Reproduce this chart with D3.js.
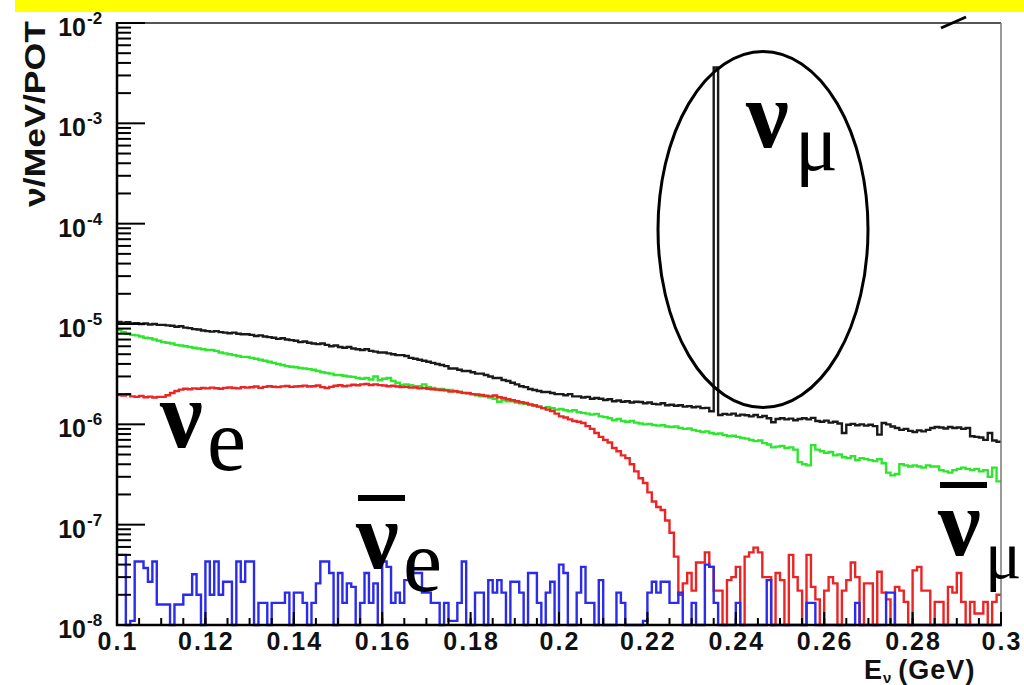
<!DOCTYPE html>
<html>
<head>
<meta charset="utf-8">
<script src="https://cdn.jsdelivr.net/npm/d3@7"></script>
<style>
  html, body { margin: 0; padding: 0; background: #fff; }
  svg { display: block; }
  .num { font-family: "Liberation Sans", Arial, sans-serif; font-weight: bold; fill: #111; }
  .greek { font-family: "Liberation Serif", "Times New Roman", serif; fill: #000; }
</style>
</head>
<body>
<script>
// neutrino flux per 1 MeV bin, 0.1 -> 0.3 GeV (200 bins)
const E_MIN = 0.1, E_MAX = 0.3, BIN_W = 0.001;
const binLow = d3.range(200).map(i => E_MIN + i * BIN_W);

// nu_mu (black), units of 1e-7 nu/MeV/POT ; bin 135 is the 236 MeV KDAR line
const numu = [
  105, 103, 104, 101, 102, 100, 101, 99, 100, 98,
  98, 97, 96, 94, 95, 92, 91, 89, 88, 86,
  85, 84, 85, 83, 82, 81, 82, 80, 79, 79,
  78, 76, 77, 75, 74, 73, 71, 72, 70, 69,
  68, 66, 67, 65, 64, 63, 64, 62, 60, 61,
  59, 58, 59, 57, 56, 55, 56, 54, 53, 52,
  52, 51, 50, 49, 49, 48, 46, 45, 44, 43,
  42, 41, 40, 39, 38, 36, 36, 35, 34, 34,
  33, 32, 32, 31, 30, 29, 29, 27.7, 27, 26,
  25, 24, 23.5, 22.5, 22, 21.5, 21, 21, 20.5, 20,
  20, 19.5, 20, 19, 19, 18.5, 18.8, 18, 18.3, 18,
  17.5, 17.8, 17, 17.3, 16.8, 17, 16.5, 16.8, 16.7, 16.2,
  16.5, 16, 15.8, 16.2, 15.5, 15.7, 15.3, 15.5, 15, 15.2,
  14.8, 15, 14.5, 14.6, 13.5, 36000, 12.4, 12.7, 12.5, 12.8,
  12.2, 12.5, 12.3, 12.0, 12.4, 11.8, 12.1, 11.5, 10.5, 11.3,
  11.5, 11.2, 11.4, 11.0, 11.3, 11.5, 11.2, 11.6, 10.8, 10.6,
  10.9, 10.4, 10.6, 10.2, 8.2, 9.9, 10.1, 9.8, 10.0, 9.7,
  9.9, 9.6, 7.9, 10.3, 10.0, 9.5, 9.2, 8.8, 9.0, 8.6,
  8.4, 8.7, 8.5, 8.8, 9.2, 9.4, 9.3, 9.1, 9.4, 9.2,
  9.3, 9.0, 9.2, 7.6, 7.5, 7.4, 7.0, 8.2, 6.9, 6.7
];

// anti nu_mu (green), units of 1e-7
const numubar = [
  87, 83, 80, 78, 77, 75, 73, 72, 70, 68,
  66, 65, 64, 62, 61, 60, 59, 58, 57, 56,
  55, 55, 54, 52, 51, 50, 49, 48, 47, 47,
  46, 45, 44, 43, 42, 41, 40, 39, 38, 37.5,
  37, 36.4, 36, 35.5, 35, 34, 33, 32.5, 32, 31,
  31, 30.5, 30, 29.7, 29, 28.5, 29, 28, 30, 27.5,
  28.5, 29, 27, 26, 24.7, 25, 24.5, 24, 24, 25,
  23.5, 23, 22.5, 22.5, 22, 22, 21.5, 21, 20.5, 20.5,
  20, 19.5, 19, 19, 18.5, 18, 16.8, 17.5, 17, 17,
  16.5, 16.2, 16, 15.7, 15.5, 15, 14.5, 14.8, 14.5, 14,
  14.2, 13.8, 13.5, 13.8, 13.2, 13, 12.8, 12.5, 12.7, 12,
  11.8, 11.5, 11, 11.3, 10.8, 10.6, 10.8, 10.4, 10.2, 10,
  10.1, 9.85, 9.7, 9.8, 9.5, 9.4, 9.5, 9.2, 9.0, 9.1,
  8.8, 8.6, 8.4, 8.5, 8.2, 8.0, 8.1, 7.8, 7.6, 7.7,
  7.5, 7.3, 7.2, 7.0, 6.8, 6.9, 6.5, 6.3, 5.9, 6.0,
  6.1, 5.8, 5.9, 5.6, 4.2, 4.0, 3.9, 6.2, 5.6, 5.4,
  5.2, 5.3, 4.9, 5.0, 4.7, 4.6, 4.8, 4.4, 4.6, 4.5,
  4.4, 4.3, 4.5, 4.1, 3.3, 3.1, 3.2, 4.0, 3.9, 3.8,
  3.9, 3.8, 3.7, 3.9, 3.8, 3.8, 3.5, 3.4, 3.3, 3.5,
  3.6, 3.7, 3.6, 3.5, 3.6, 3.4, 3.5, 3.0, 3.7, 2.7
];

// nu_e (red), units of 1e-8
const nue = [
  196, 194, 198, 190, 188, 192, 186, 189, 185, 188,
  188, 195, 205, 215, 222, 226, 224, 228, 226, 230,
  228, 232, 229, 226, 231, 233, 230, 228, 235, 232,
  234, 238, 231, 236, 240, 237, 235, 239, 241, 236,
  238, 240, 243, 238, 240, 244, 235, 230, 236, 242,
  245, 240, 243, 248, 245, 250, 252, 247, 250, 246,
  244, 240, 242, 238, 235, 236, 232, 233, 228, 230,
  226, 224, 222, 220, 218, 212, 214, 210, 206, 204,
  200, 198, 196, 193, 190, 194, 186, 183, 178, 174,
  170, 166, 163, 158, 154, 150, 145, 140, 136, 128,
  120, 117, 112, 108, 106, 103, 96, 90, 82, 75,
  70, 66, 58, 54, 49, 46, 40, 34, 29, 26,
  21, 17, 15, 14, 11, 8.3, 4.8, 2.0, 2.6, 3.3,
  2.2, 4.2, 4.2, 5.3, 3.8, 2.2, 2.2, 0, 2.8, 3.0,
  3.8, 0, 4.8, 5.3, 5.9, 5.3, 3.0, 3.0, 0, 3.3,
  2.8, 0, 5.0, 3.0, 2.2, 0, 5.0, 2.4, 1.8, 0,
  2.2, 3.0, 2.6, 0, 2.2, 2.8, 4.2, 3.0, 0, 2.6,
  2.6, 0, 3.4, 2.1, 1.8, 0, 2.4, 2.2, 1.7, 0,
  3.5, 3.8, 2.2, 2.2, 0, 1.7, 1.7, 0, 2.4, 2.1,
  3.3, 1.7, 0, 1.7, 1.3, 1.3, 1.7, 0, 1.7, 2.0
];

// anti nu_e (blue), units of 1e-8 ; 0 = empty bin
const nuebar = [
  5.0, 5.0, 0, 1.1, 4.3, 4.3, 3.7, 2.7, 4.3, 1.6,
  1.6, 1.6, 0, 1.6, 1.6, 2.0, 2.0, 3.2, 2.0, 0,
  4.3, 2.0, 4.3, 2.0, 2.7, 2.7, 0, 4.3, 2.7, 4.3,
  4.3, 0, 1.66, 1.66, 0, 1.66, 1.66, 1.66, 2.1, 0,
  2.1, 2.1, 1.66, 0, 1.66, 2.6, 4.3, 4.3, 3.3, 0,
  3.3, 1.66, 2.6, 2.4, 0, 1.66, 3.3, 1.66, 2.6, 0,
  4.3, 3.8, 1.66, 2.1, 1.66, 2.8, 4.3, 3.3, 3.3, 2.1,
  2.1, 1.66, 1.66, 0, 1.66, 1.1, 1.1, 1.66, 4.3, 0,
  0, 2.1, 2.1, 0, 2.8, 2.1, 2.8, 2.1, 0, 2.7,
  2.7, 2.1, 0, 3.3, 3.3, 1.66, 0, 2.1, 2.7, 0,
  4.0, 3.3, 0, 0, 2.1, 3.8, 1.66, 1.66, 0, 2.8,
  0, 0, 0, 2.1, 1.66, 0, 0, 0, 0, 1.1,
  2.1, 2.7, 2.1, 2.7, 2.7, 1.66, 1.66, 2.1, 0, 0,
  1.66, 0, 0, 4.0, 3.8, 1.66, 0, 0, 0, 0,
  1.66, 0, 0, 0, 0, 0, 0, 2.8, 0, 0,
  0, 0, 0, 0, 0, 0, 1.66, 1.66, 0, 0,
  0, 0, 0, 0, 0, 0, 0, 1.66, 0, 0,
  0, 0, 0, 0, 2.1, 2.1, 0, 0, 0, 0,
  0, 0, 0, 0, 0, 0, 0, 0, 0, 0,
  0, 0, 0, 0, 0, 0, 0, 0, 0, 0
];

const series = [
  { vals: numu, unit: 1e-7, color: "#1a1a1a" },
  { vals: numubar, unit: 1e-7, color: "#2ee62e" },
  { vals: nue, unit: 1e-8, color: "#ec2424" },
  { vals: nuebar, unit: 1e-8, color: "#2b2bec" }
];

const xMajor = d3.range(0.1, 0.3001, 0.02);

const W = 1024, H = 685;
const svg = d3.select("body").append("svg").attr("width", W).attr("height", H);

svg.append("rect").attr("width", W).attr("height", H).attr("fill", "#fff");
// yellow title strip
svg.append("rect").attr("x", 15).attr("y", 0).attr("width", W - 15).attr("height", 12).attr("fill", "#ffff00");

const x = d3.scaleLinear().domain([E_MIN, E_MAX]).range([117, 1001]);
const y = d3.scaleLog().domain([1e-8, 1e-2]).range([625, 23]).clamp(true);
const yMin = y.domain()[0];

// histograms
const line = d3.line().x(d => x(d[0])).y(d => y(Math.max(d[1], yMin)));
series.forEach(s => {
  const pts = [];
  s.vals.forEach((v, i) => {
    pts.push([binLow[i], v * s.unit], [binLow[i] + BIN_W, v * s.unit]);
  });
  svg.append("path")
    .attr("d", line(pts))
    .attr("fill", "none")
    .attr("stroke", s.color)
    .attr("stroke-width", 2.4)
    .attr("stroke-linejoin", "miter");
});

// frame
svg.append("line").attr("x1", 117).attr("x2", 1001).attr("y1", 23).attr("y2", 23)
  .attr("stroke", "#555").attr("stroke-width", 2);
svg.append("line").attr("x1", 1001).attr("x2", 1001).attr("y1", 23).attr("y2", 625)
  .attr("stroke", "#777").attr("stroke-width", 1.5);

// y axis, ticks inward
const yAxis = svg.append("g");
yAxis.append("line").attr("x1", 117).attr("x2", 117).attr("y1", 22).attr("y2", 626)
  .attr("stroke", "#000").attr("stroke-width", 2.5);
const isMajor = t => Math.abs(Math.log10(t) - Math.round(Math.log10(t))) < 1e-6;
yAxis.selectAll(".yt").data(y.ticks()).join("line")
  .attr("x1", 117).attr("x2", t => 117 + (isMajor(t) ? 28 : 14))
  .attr("y1", t => y(t)).attr("y2", t => y(t))
  .attr("stroke", "#000").attr("stroke-width", 2);
const majors = y.ticks().filter(isMajor);
yAxis.selectAll(".ylab").data(majors).join("text")
  .attr("class", "num").attr("x", 86).attr("y", t => y(t) + 13)
  .attr("text-anchor", "end").attr("font-size", 25)
  .text("10");
yAxis.selectAll(".yexp").data(majors).join("text")
  .attr("class", "num").attr("x", 87).attr("y", t => y(t) + 1)
  .attr("font-size", 17)
  .text(t => Math.round(Math.log10(t)));

// y title
svg.append("text").attr("class", "num")
  .attr("transform", "translate(45,21) rotate(-90)")
  .attr("text-anchor", "end").attr("font-size", 30)
  .attr("textLength", 186).attr("lengthAdjust", "spacingAndGlyphs")
  .text("\u03bd/MeV/POT");

// x axis, ticks inward
const xAxis = svg.append("g");
xAxis.append("line").attr("x1", 116).attr("x2", 1002).attr("y1", 625).attr("y2", 625)
  .attr("stroke", "#000").attr("stroke-width", 2.5);
xAxis.selectAll(".xt").data(x.ticks(40)).join("line")
  .attr("x1", d => x(d)).attr("x2", d => x(d))
  .attr("y1", 625).attr("y2", 618)
  .attr("stroke", "#000").attr("stroke-width", 2);
xAxis.selectAll(".xT").data(xMajor).join("line")
  .attr("x1", d => x(d)).attr("x2", d => x(d))
  .attr("y1", 625).attr("y2", 612)
  .attr("stroke", "#000").attr("stroke-width", 2);
xAxis.selectAll(".xlab").data(xMajor).join("text")
  .attr("class", "num").attr("x", d => x(d) + 1).attr("y", 650)
  .attr("text-anchor", "middle").attr("font-size", 25)
  .attr("letter-spacing", 2)
  .text(d => d3.format("~g")(+d.toFixed(2)));

// x title
const xt = svg.append("text").attr("class", "num").attr("x", 864).attr("y", 679)
  .attr("font-size", 27).attr("letter-spacing", 1);
xt.append("tspan").text("E");
xt.append("tspan").attr("font-size", 15).attr("dy", 4).text("\u03bd");
xt.append("tspan").attr("dy", -4).attr("dx", 6).text("(GeV)");

// annotations
function nuLabel(xp, yp, sub, subSize, subDx, bar) {
  const g = svg.append("g");
  g.append("text").attr("class", "greek").attr("x", xp).attr("y", yp)
    .attr("font-size", 96).attr("font-weight", "bold").text("\u03bd");
  g.append("text").attr("class", "greek").attr("x", xp + subDx).attr("y", yp + 23)
    .attr("font-size", subSize).text(sub);
  if (bar) g.append("rect").attr("x", xp + 2).attr("y", yp - 73).attr("width", 47).attr("height", 6).attr("fill", "#000");
}
nuLabel(160, 447, "e", 88, 47, false);
nuLabel(356, 568, "e", 88, 47, true);
nuLabel(746, 147, "\u03bc", 80, 49, false);
nuLabel(938, 555, "\u03bc", 68, 47, true);

svg.append("ellipse").attr("cx", 763).attr("cy", 229.5).attr("rx", 105).attr("ry", 178)
  .attr("fill", "none").attr("stroke", "#000").attr("stroke-width", 3);
svg.append("line").attr("x1", 941).attr("y1", 28).attr("x2", 966).attr("y2", 17)
  .attr("stroke", "#000").attr("stroke-width", 3);
</script>
</body>
</html>
